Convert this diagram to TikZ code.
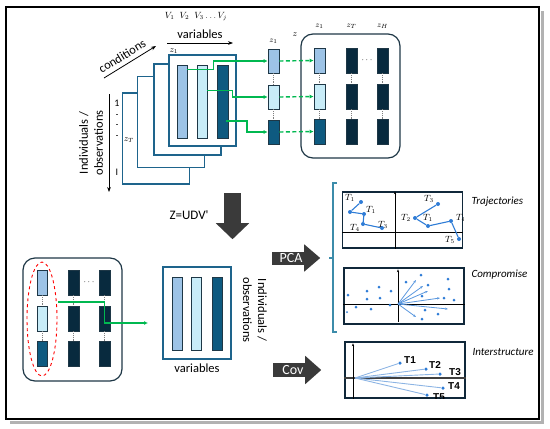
\documentclass[tikz,border=0pt]{standalone}
\usepackage{fontspec}
\setmainfont{Carlito}
\newfontfamily\arialb{Liberation Sans}
\usepackage{tikz}
\usetikzlibrary{arrows.meta,positioning,calc,shapes.geometric}
\definecolor{frameblue}{RGB}{30,100,140}
\definecolor{colA}{RGB}{157,195,230}
\definecolor{colB}{RGB}{200,236,248}
\definecolor{colC}{RGB}{14,90,128}
\definecolor{colD}{RGB}{8,42,62}
\definecolor{barline}{RGB}{30,55,70}
\definecolor{grn}{RGB}{0,184,80}
\definecolor{arrgrey}{RGB}{58,58,58}
\definecolor{plotframe}{RGB}{16,40,58}
\definecolor{dotblue}{RGB}{46,124,214}
\definecolor{rayblue}{RGB}{140,180,228}
\definecolor{brk}{RGB}{60,140,170}
\newcommand{\fsz}[1]{\fontsize{#1}{#1}\selectfont}

\begin{document}
\begin{tikzpicture}[x=1pt,y=-1pt,
  frm/.style={draw=frameblue, line width=1.3pt, fill=white, inner sep=0},
  bar/.style={draw=barline, line width=0.6pt, fill=#1, minimum width=10pt, inner sep=0},
  rbox/.style={draw=barline, line width=1.2pt, rounded corners=12pt, inner sep=0},
  gar/.style={-{Latex[length=4pt,width=4pt]}, draw=grn, line width=1.4pt},
  dotln/.style={draw=gray, densely dotted, line width=0.8pt},
  thinar/.style={-{Stealth[length=5pt]}, line width=0.8pt},
  plotbox/.style={draw=plotframe, line width=1.4pt, inner sep=0, minimum width=120pt, minimum height=56pt},
  axln/.style={draw=black, line width=0.9pt},
  dotpt/.style={circle, fill=dotblue, inner sep=0, minimum size=4pt},
  trj/.style={draw=dotblue, line width=1.1pt},
  ray/.style={draw=dotblue!80, line width=0.8pt, -{Stealth[length=3pt]}},
  tlab/.style={font=\fsz{9}, inner sep=0},
  bigtxt/.style={font=\fsz{12.5}},
]
  \useasboundingbox (0,0) rectangle (550,429);
  % outer frame
  \draw[black!30, line width=3pt] (542,11) -- (542,422) -- (10,422);
  \draw[black, line width=2pt] (6,7) rectangle (539,419);

  % stacked conditions
  \foreach \n/\cx/\cy in {4/156/138.5,3/171/122,2/187.5/109.5,1/202.5/100.5}
    \node[frm, minimum width=67pt, minimum height=91pt] (f\n) at (\cx,\cy) {};
  \node[bar=colA, minimum height=73pt] (fa) at (182,101.5) {};
  \node[bar=colB, minimum height=73pt] (fb) at (202,101.5) {};
  \node[bar=colC, minimum height=73pt, minimum width=11pt] (fc) at (222.5,101.5) {};
  \node[font=\fsz{9}, anchor=south west, inner sep=1pt] (zf) at (f1.north west) {$z_1$};
  \node[font=\fsz{10}] (one) at (117,103) {1};
  \foreach \i/\y in {1/114,2/124,3/135}
    \node[fill=black!70, inner sep=0, minimum width=1.5pt, minimum height=1pt] (tk\i) at (117,\y) {};
  \node[font=\fsz{10}] (last) at (117,172) {I};
  \node[font=\fsz{9}] (zT) at (129,140) {$z_T$};

  % axes of the cube
  \coordinate (vs) at (167,43);
  \coordinate (ve) at (233,43);
  \draw[thinar] (vs) -- node[above=1pt, bigtxt] (vtxt) {variables} (ve);
  \node[font=\fsz{9}] (vlist) at (196,17) {$V_1\;\;V_2\;\;V_3\ldots V_j$};
  \coordinate (cs) at (104,78);
  \coordinate (ce) at (156,46);
  \draw[thinar] (cs) -- node[sloped, above=1pt, pos=0.44, bigtxt] (ctxt) {conditions} (ce);
  \coordinate (is) at (109,94);
  \coordinate (ie) at (109,192);
  \draw[thinar] (is) -- (ie);
  \node[rotate=90, align=center, font=\fontsize{12.5}{15}\selectfont] (itxt) at (91,143) {Individuals /\\observations};

  % z column
  \node[bar=colA, minimum width=11pt, minimum height=24pt] (s1) at (273.5,61) {};
  \node[bar=colB, minimum width=11pt, minimum height=24pt] (s2) at (273.5,97) {};
  \node[bar=colC, minimum width=11pt, minimum height=24pt] (s3) at (273.5,132) {};
  \draw[dotln] (s1) -- (s2);
  \draw[dotln] (s2) -- (s3);
  \node[font=\fsz{8}, above=2pt of s1] (zs) {$z_1$};
  \node[font=\fsz{9}] (zz) at (295,35) {$z$};

  % Z matrix
  \node[rbox, minimum width=99pt, minimum height=124pt] (Zb) at (350.5,96) {};
  \foreach \r/\y/\cl in {1/60.5/colA,2/96.5/colB,3/131.5/colC}{
    \node[bar=\cl, minimum width=11pt, minimum height=25pt] (z1\r) at (319.5,\y) {};
    \node[bar=colD, minimum width=11pt, minimum height=25pt] (z2\r) at (351.5,\y) {};
    \node[bar=colD, minimum width=11pt, minimum height=25pt] (z3\r) at (382.5,\y) {};
  }
  \foreach \c in {1,2,3}{
    \draw[dotln] (z\c1) -- (z\c2);
    \draw[dotln] (z\c2) -- (z\c3);
  }
  \node[font=\fsz{8}, above=1pt] (zl1) at (z11.north |- Zb.north) {$z_1$};
  \node[font=\fsz{8}, above=1pt] (zl2) at (z21.north |- Zb.north) {$z_T$};
  \node[font=\fsz{8}, above=1pt] (zl3) at (z31.north |- Zb.north) {$z_H$};
  \node[font=\fsz{9}] (zdots) at ($(z21)!0.5!(z31)$) {$\cdots$};

  \draw[gar] ($(fa.north east)+(0,5)$) -- ++(26,0) |- (s1.west);
  \draw[gar] ($(fb.north east)+(0,26)$) -- ++(25,0) |- (s2.west);
  \draw[gar] ($(fc.center)+(3.5,19.5)$) -- ++(21,0) |- (s3.west);
  \foreach \r in {1,2,3}
    \draw[gar, dash pattern=on 4pt off 2.5pt] (s\r.east) -- (z1\r.west);

  % SVD arrow
  \node[fill=arrgrey, minimum width=17pt, minimum height=30pt, inner sep=0] (darr) at (232.5,208) {};
  \fill[arrgrey] ($(darr.south west)+(-8,0)$) -- ($(darr.south)+(0,16)$) -- ($(darr.south east)+(8,0)$) -- cycle;
  \node[font=\fsz{13}] (svd) at (189,215) {Z=UDV\textquotesingle};

  % bottom matrix
  \node[rbox, minimum width=99pt, minimum height=123pt] (Bb) at (72.5,319.5) {};
  \foreach \r/\y/\cl in {1/282.5/colA,2/318.5/colB,3/354/colC}{
    \node[bar=\cl, minimum height=25pt] (b1\r) at (42,\y) {};
    \node[bar=colD, minimum width=11pt, minimum height=25pt] (b2\r) at (73.5,\y) {};
    \node[bar=colD, minimum width=11pt, minimum height=25pt] (b3\r) at (104.5,\y) {};
  }
  \foreach \c in {1,2,3}{
    \draw[dotln] (b\c1) -- (b\c2);
    \draw[dotln] (b\c2) -- (b\c3);
  }
  \node[font=\fsz{9}] (bdots) at ($(b21)!0.5!(b31)$) {$\cdots$};
  \node[draw=red, dashed, ellipse, line width=0.9pt, minimum width=30pt, minimum height=114pt, inner sep=0] (ell) at (42,319) {};

  % compromise table
  \node[frm, minimum width=68pt, minimum height=92pt] (Vb) at (197,313) {};
  \node[bar=colA, minimum height=73pt] (va) at (177,313.5) {};
  \node[bar=colB, minimum height=73pt] (vb) at (196.5,313.5) {};
  \node[bar=colC, minimum height=73pt] (vc) at (217,313.5) {};
  \node[below=1pt of Vb, bigtxt] (vtxt2) {variables};
  \node[rotate=-90, align=center, font=\fontsize{12.5}{15}\selectfont] (itxt2) at (255,310) {Individuals /\\observations};
  \coordinate (vin) at (148,323);
  \draw[gar] ($(ell.east)+(1,-17)$) -- ++(46,0) |- (vin);

  % PCA and Cov arrows
  \node[fill=arrgrey, minimum width=32pt, minimum height=13pt, inner sep=0] (pca) at (288,258) {};
  \fill[arrgrey] ($(pca.north east)+(0,-7)$) -- ($(pca.east)+(16,0)$) -- ($(pca.south east)+(0,7)$) -- cycle;
  \node[text=white, font=\fsz{14}] (pcatxt) at ($(pca.center)+(3,0)$) {PCA};
  \node[fill=arrgrey, minimum width=32pt, minimum height=14pt, inner sep=0] (cov) at (289,370) {};
  \fill[arrgrey] ($(cov.north east)+(0,-7)$) -- ($(cov.east)+(16,0)$) -- ($(cov.south east)+(0,7)$) -- cycle;
  \node[text=white, font=\fsz{14}] (covtxt) at ($(cov.center)+(4,0)$) {Cov};

  % bracket
  \draw[draw=brk, line width=1.2pt] (337,183) -| (333,332) -- (337,332);
  \draw[draw=brk, line width=1.2pt] (333,258) -- (329,258);

  % trajectories
  \node[plotbox] (traj) at (402.5,220) {};
  \draw[axln] ($(traj.west)+(0,12)$) -- ($(traj.east)+(0,12)$);
  \draw[axln, -{Stealth[length=3pt]}] ($(traj.south)+(-7.5,0)$) -- ($(traj.north)+(-7.5,0)$);
  \foreach \i/\px/\py in {1/361/202,2/350/212,3/364/214,4/363/224,5/382/228}
    \node[dotpt] (l\i) at (\px,\py) {};
  \foreach \i/\px/\py in {1/438/204,2/415/218,3/428/226,4/451/221,5/459/239}
    \node[dotpt] (r\i) at (\px,\py) {};
  \draw[trj] (l1) -- (l2) -- (l3) -- (l4) -- (l5);
  \draw[trj] (r1) -- (r2) -- (r3) -- (r4) -- (r5);
  \begin{scope}
    \clip (traj.south west) rectangle (traj.north east);
    \node[tlab] (tl1) at (350,198) {$T_1$};
    \node[tlab] (tl2) at (371,210) {$T_1$};
    \node[tlab] (tl3) at (355,228) {$T_4$};
    \node[tlab] (tl4) at (383,225) {$T_3$};
    \node[tlab] (tr1) at (429,199) {$T_3$};
    \node[tlab] (tr2) at (406,218) {$T_2$};
    \node[tlab] (tr3) at (428,218) {$T_1$};
    \node[tlab] (tr4) at (461,218) {$T_4$};
    \node[tlab] (tr5) at (450,240) {$T_5$};
  \end{scope}
  \node[anchor=west, font=\itshape\fsz{11}] (trajtxt) at (468,202) {Trajectories};

  % compromise
  \node[plotbox] (comp) at (404,296) {};
  \draw[axln] ($(comp.west)+(0,8)$) -- ($(comp.east)+(0,8)$);
  \draw[axln, -{Stealth[length=3pt]}] ($(comp.south)+(-6,-3)$) -- ($(comp.north)+(-6,2)$);
  \coordinate (co) at (398,304);
  \foreach \i/\px/\py in {1/416/280,2/423/286,3/428/291,4/440/298,5/448/309,6/416/317}{
    \coordinate (ray\i) at (\px,\py);
    \draw[ray] (co) -- (ray\i);
  }
  \foreach \i/\px/\py in {1/348/295,2/367/291,3/379/287,4/391/291,5/367/299,6/380/298,7/356/307,8/371/309,9/390/305,
      10/421/275,11/406/282,12/428/285,13/448/279,14/449/289,15/422/296,16/444/298,17/454/300,18/425/310,19/438/314,20/422/319}
    \node[dotpt, minimum size=3pt] (cd\i) at (\px,\py) {};
  \node[dotpt, minimum size=2pt] (cd0) at (347,312) {};
  \node[anchor=west, font=\itshape\fsz{11}] (comptxt) at (468,275) {Compromise};

  % interstructure
  \node[plotbox] (inter) at (405,370) {};
  \draw[draw=black!75, line width=1.5pt] ($(inter.west)+(0,8)$) -- ($(inter.east)+(0,8)$);
  \draw[axln, -{Stealth[length=3pt]}] ($(inter.south)+(-52,0)$) -- ($(inter.north)+(-52,2)$);
  \coordinate (io) at (355,378);
  \foreach \i/\px/\py in {1/400/363,2/426/369,3/440/374,4/443/388,5/427/395}{
    \node[dotpt, minimum size=3.5pt] (it\i) at (\px,\py) {};
    \draw[draw=rayblue, line width=0.9pt] (io) -- (it\i);
  }
  \begin{scope}
    \clip (inter.south west) rectangle (inter.north east);
    \foreach \i/\px/\py in {1/410/360,2/435/365,3/455/372,4/454/386,5/439/397}
      \node[font=\arialb\bfseries\fsz{10}, inner sep=0] (itl\i) at (\px,\py) {T\i};
  \end{scope}
  \node[anchor=west, font=\itshape\fsz{11}] (intertxt) at (469,352) {Interstructure};
\end{tikzpicture}
\end{document}
